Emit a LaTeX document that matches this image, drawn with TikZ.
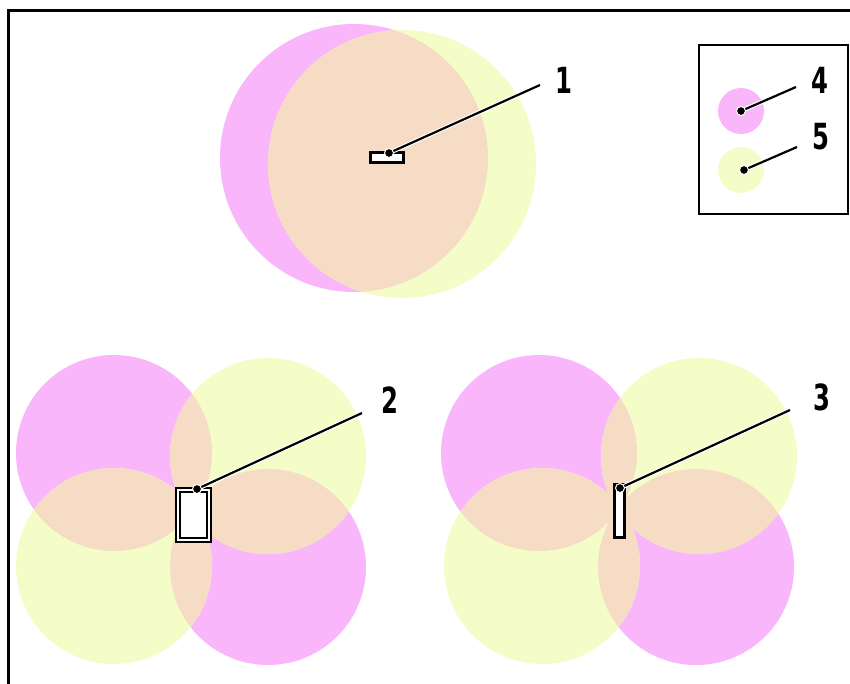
\documentclass[tikz,border=0pt]{standalone}
\usepackage{fontspec}
\newfontfamily\labelfont{DejaVu Sans Condensed}[FakeStretch=0.75]
\definecolor{zonepink}{RGB}{249,182,251}
\definecolor{zoneyellow}{RGB}{244,253,200}
\definecolor{zonemix}{RGB}{246,220,196}
\tikzset{
  sensorbox/.style={draw, line width=2.4pt, fill=white, inner sep=0pt},
  tagdot/.style={circle, fill=black, draw=white, line width=1pt, inner sep=0pt, minimum size=9pt},
  tag/.style={font=\labelfont\bfseries\fontsize{36}{36}\selectfont, inner sep=0pt},
  leader/.style={line width=2.2pt, preaction={draw=white, line width=4.4pt}}
}
\begin{document}
\begin{tikzpicture}[x=1pt, y=-1pt]
  \useasboundingbox (0,0) rectangle (850,683);
  \clip (0,0) rectangle (850,683);
  \draw[line width=3pt] (8.5,10.5) rectangle (900,760);

  % Define zones: pink, yellow, then their overlap
  \fill[zonepink] (354,158) circle (134pt);
  \fill[zoneyellow] (402,164) circle (134pt);
  \begin{scope}
    \clip (354,158) circle (134pt);
    \fill[zonemix] (402,164) circle (134pt);
  \end{scope}

  \foreach \dx/\a/\b/\c/\d in {0/114/268/114/268, 425/539/699/542/696}{
    \fill[zonepink] (\a,453) circle (98pt);
    \fill[zonepink] (\d,567) circle (98pt);
    \fill[zoneyellow] (\b,456) circle (98pt);
    \fill[zoneyellow] (\c,566) circle (98pt);
    \begin{scope}
      \clip (\a,453) circle (98pt);
      \fill[zonemix] (\b,456) circle (98pt);
      \fill[zonemix] (\c,566) circle (98pt);
    \end{scope}
    \begin{scope}
      \clip (\d,567) circle (98pt);
      \fill[zonemix] (\b,456) circle (98pt);
      \fill[zonemix] (\c,566) circle (98pt);
    \end{scope}
  }

  % Define nodes
  \node[sensorbox, minimum width=33pt, minimum height=10pt] (s1) at (387,157.5) {};
  \node[sensorbox, double, double distance=2.4pt, line width=1.8pt, minimum width=31pt, minimum height=50pt] (s2) at (193.5,515) {};
  \node[sensorbox, minimum width=10pt, minimum height=53pt] (s3) at (619.5,511) {};

  \draw[line width=2.2pt] (699,45) rectangle (848,214);
  \fill[zonepink] (741,111) circle (23pt);
  \fill[zoneyellow] (741,170) circle (23pt);

  \node[tag] (t1) at (564,80) {1};
  \node[tag] (t2) at (390,400) {2};
  \node[tag] (t3) at (822,397) {3};
  \node[tag] (t4) at (820,80) {4};
  \node[tag] (t5) at (821,137) {5};

  \coordinate (e1) at (540,85);
  \coordinate (e2) at (362,413);
  \coordinate (e3) at (790,410);
  \coordinate (e4) at (796,87);
  \coordinate (e5) at (797,147);

  % Draw leaders
  \draw[leader] (389,153) -- (e1);
  \draw[leader] (197,489) -- (e2);
  \draw[leader] (620,488) -- (e3);
  \draw[leader] (741,111) -- (e4);
  \draw[leader] (744,170) -- (e5);

  \node[tagdot] (d1) at (389,153) {};
  \node[tagdot] (d2) at (197,489) {};
  \node[tagdot] (d3) at (620,488) {};
  \node[tagdot] (d4) at (741,111) {};
  \node[tagdot] (d5) at (744,170) {};
\end{tikzpicture}
\end{document}
